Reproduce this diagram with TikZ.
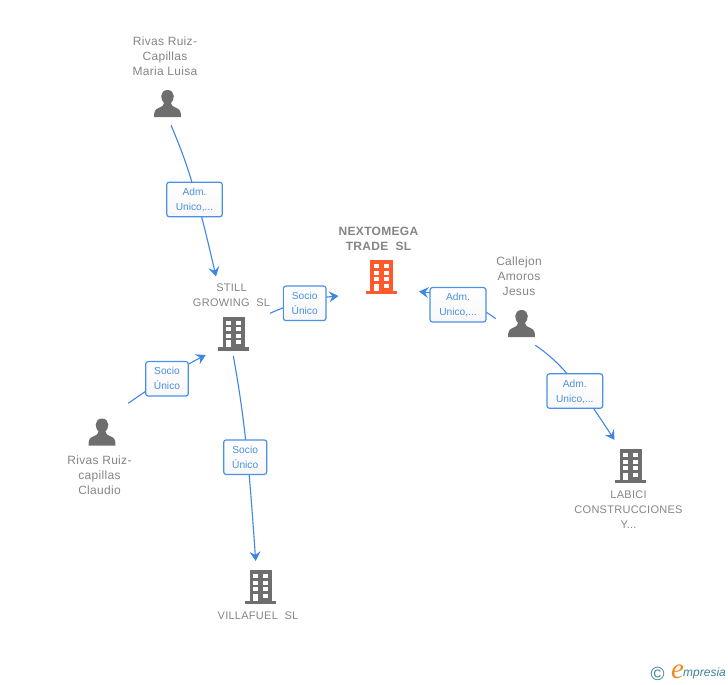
\documentclass[tikz,border=0pt]{standalone}
\usepackage{fontspec}
\setmainfont{Liberation Sans}
\newfontfamily\namefont[LetterSpace=2.5]{Liberation Sans}
\newfontfamily\logofont{Liberation Sans}
\newfontfamily\logoe{Liberation Serif}
\usetikzlibrary{arrows.meta}
\definecolor{linkblue}{HTML}{3F86E4}
\definecolor{boxblue}{HTML}{4A90E8}
\definecolor{labelblue}{HTML}{4A8FE3}
\definecolor{nametext}{HTML}{858585}
\definecolor{icongrey}{HTML}{6E6E6E}
\definecolor{mainorange}{HTML}{FF5A2C}
\definecolor{logoteal}{HTML}{3E7F98}
\definecolor{logoorange}{HTML}{F08A1D}
\tikzset{
  link/.style={draw=linkblue,line width=1.1pt,-{Stealth[length=9.5pt,width=11pt,inset=3.5pt]}},
  linkbox/.style={draw=boxblue,line width=1.2pt,rounded corners=2.5pt,top color=white,bottom color=white!97!black,
    minimum height=34.5pt,inner sep=0pt,align=center,text=labelblue,text depth=0pt,
    font=\fontsize{10.2}{15}\selectfont},
  person label/.style={text=nametext,align=center,inner sep=0pt,font=\namefont\fontsize{12}{15}\selectfont},
  company label/.style={text=nametext,align=center,inner sep=0pt,font=\namefont\fontsize{11}{15}\selectfont},
  main label/.style={text=nametext,align=center,inner sep=0pt,font=\namefont\bfseries\fontsize{12}{15}\selectfont},
  pics/building/.style={code={
    \fill[#1] (-11,-17) rectangle (11.5,14);
    \fill[#1] (-15.5,13.5) rectangle (15.5,17);
    \foreach \wx in {-7.5,2.5}{\foreach \wy in {-13,-6.5,0}{
      \fill[white] (\wx,\wy) rectangle ++(5,4);}}
    \fill[white] (-7.5,6.5) rectangle ++(5,7);
    \fill[white] (2.5,6.5) rectangle ++(5,4);
  }},
  pics/person/.style={code={
    \fill[icongrey] (0,-13.5) .. controls (-4,-13.5) and (-6.3,-10.5) .. (-6.3,-7.5)
      .. controls (-6.3,-4.5) and (-5,-2) .. (-3.5,-0.5)
      .. controls (-3.5,1.5) and (-5,3) .. (-9,4.5)
      .. controls (-12.5,6) and (-13.5,8) .. (-13.5,13.5)
      -- (13.5,13.5)
      .. controls (13.5,8) and (12.5,6) .. (9,4.5)
      .. controls (5,3) and (3.5,1.5) .. (3.5,-0.5)
      .. controls (5,-2) and (6.3,-4.5) .. (6.3,-7.5)
      .. controls (6.3,-10.5) and (4,-13.5) .. (0,-13.5) -- cycle;
  }}
}
\begin{document}
\begin{tikzpicture}[x=1pt,y=-1pt]
\useasboundingbox (0,0) rectangle (728,685);
% connector ends
\coordinate (m0) at (171,125.3);  \coordinate (m1) at (216,276.5);
\coordinate (s0) at (270,313.3);  \coordinate (s1) at (338.5,296);
\coordinate (c0) at (495.7,318.7); \coordinate (c1) at (419,291.5);
\coordinate (d0) at (535.3,345.3); \coordinate (d1) at (614.5,440);
\coordinate (k0) at (128.3,403.3); \coordinate (k1) at (205.7,355);
\coordinate (v0) at (233.3,356);  \coordinate (v1) at (255.7,561);
% connectors
\draw[link] (m0) .. controls (185,158) and (195,185) .. (m1);
\draw[link] (s0) .. controls (295,302) and (315,298) .. (s1);
\draw[link] (c0) .. controls (475,303) and (450,295) .. (c1);
\draw[link] (d0) .. controls (565,365) and (585,395) .. (d1);
\draw[link] (k0) .. controls (150,388) and (180,368) .. (k1);
\draw[link] (v0) .. controls (246,425) and (250,480) .. (v1);
% link labels
\node[linkbox,minimum width=55.6pt] (lm) at (194.5,199.5) {Adm.\\Unico,...};
\node[linkbox,minimum width=42.7pt] (ls) at (304.7,303.3) {Socio\\Único};
\node[linkbox,minimum width=56pt] (lc) at (458,304.8) {Adm.\\Unico,...};
\node[linkbox,minimum width=55.7pt] (ld) at (574.8,391) {Adm.\\Unico,...};
\node[linkbox,minimum width=42.6pt] (lk) at (167,378.8) {Socio\\Único};
\node[linkbox,minimum width=43pt] (lv) at (245.2,457.2) {Socio\\Único};
% icons
\pic at (167.5,103.5) {person};
\pic at (521.5,323.5) {person};
\pic at (102,432) {person};
\pic at (233.5,333.5) {building=icongrey};
\pic at (381,277) {building=mainorange};
\pic at (630.5,466) {building=icongrey};
\pic at (260.5,587) {building=icongrey};
% names
\node[person label] (n1) at (165,56) {Rivas Ruiz-\\Capillas\\Maria Luisa};
\node[person label] (n2) at (519,276) {Callejon\\Amoros\\Jesus};
\node[person label] (n3) at (99.5,475) {Rivas Ruiz-\\capillas\\Claudio};
\node[company label] (n4) at (231.5,295) {STILL\\GROWING\ \ SL};
\node[main label] (n5) at (378.5,239) {NEXTOMEGA\\TRADE\ \ SL};
\node[company label] (n6) at (628.5,510) {LABICI\\CONSTRUCCIONES\\Y...};
\node[company label] (n7) at (258,616) {VILLAFUEL\ \ SL};
% logo
\node[inner sep=0pt,text=logoteal,font=\fontsize{19}{19}\selectfont] (lg0) at (657.5,673.5) {©};
\node[inner sep=0pt,text=logoorange,font=\logoe\itshape\fontsize{29}{29}\selectfont] (lg1) at (677.5,671.5) {e};
\node[inner sep=0pt,anchor=west,text=logoteal,font=\logofont\itshape\fontsize{12}{12}\selectfont] (lg2) at (683,673.5) {mpresia};
\end{tikzpicture}
\end{document}
